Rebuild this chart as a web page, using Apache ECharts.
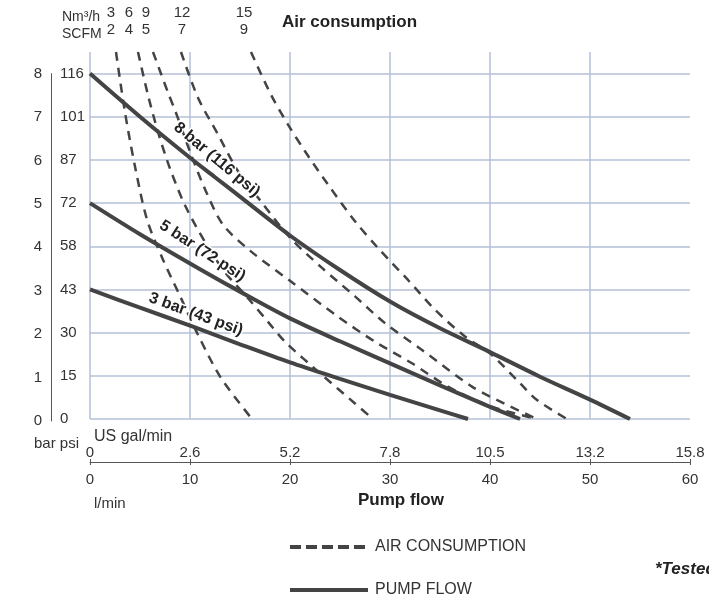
<!DOCTYPE html>
<html>
<head>
<meta charset="utf-8">
<title>Pump performance</title>
<script src="https://cdn.jsdelivr.net/npm/echarts@6/dist/echarts.min.js"></script>
<style>
  html, body { margin: 0; padding: 0; background: #fff; }
  #chart { width: 709px; height: 599px; }
</style>
</head>
<body>
<div id="chart"></div>
<script>
// axis labels
const galLabels = ['0', '2.6', '5.2', '7.8', '10.5', '13.2', '15.8']
const barLabels = ['0', '1', '2', '3', '4', '5', '6', '7', '8']
const psiLabels = ['0', '15', '30', '43', '58', '72', '87', '101', '116']

// pump flow curves: flow in l/min, pressure in bar
const flow8x = [0, 5, 10, 12.5, 15, 20, 25, 30, 35, 40, 45, 50, 54]
const flow8y = [8, 7.0, 6.05, 5.6, 5.15, 4.25, 3.45, 2.72, 2.1, 1.55, 0.98, 0.45, 0]
const flow5x = [0, 5, 11, 15, 20, 25, 30, 35, 40, 43]
const flow5y = [5, 4.28, 3.47, 2.95, 2.33, 1.8, 1.29, 0.78, 0.28, 0]
const flow3x = [0, 5, 10.5, 15, 20, 25, 30, 35, 37.8]
const flow3y = [3, 2.58, 2.12, 1.73, 1.31, 0.93, 0.56, 0.2, 0]
const flowNames = ['8 bar (116 psi)', '5 bar (72 psi)', '3 bar (43 psi)']

// air consumption curves
const air3x = [2.6, 3.5, 4.5, 5.7, 7.3, 9, 10.8, 13.1, 16.2]
const air3y = [8.5, 7.1, 5.85, 4.62, 3.69, 2.85, 1.95, 0.95, 0]
const air6x = [4.8, 5.8, 6.8, 8, 9.5, 11.5, 13.5, 15.8, 17.8, 19.5, 23.2, 26.5, 28.3]
const air6y = [8.5, 7.5, 6.65, 5.8, 4.95, 4.1, 3.4, 2.8, 2.25, 1.79, 1.02, 0.36, 0]
const air9x = [6.3, 7, 7.8, 8.6, 10.1, 11.6, 13.3, 16, 20, 24.8, 28.5, 32.2, 35.8, 40, 44.7]
const air9y = [8.5, 8.06, 7.56, 7.09, 6.13, 5.27, 4.5, 3.9, 3.2, 2.37, 1.79, 1.29, 0.75, 0.3, 0]
const air12x = [9.1, 10.8, 12.8, 14.8, 17.1, 20, 23.2, 26.5, 29.5, 33.2, 38.2, 41.5, 44.7]
const air12y = [8.5, 7.44, 6.59, 5.74, 5.04, 4.2, 3.5, 2.84, 2.22, 1.6, 0.75, 0.35, 0]
const air15x = [16.1, 18.1, 19.8, 21.5, 23.8, 26.5, 28.8, 31.8, 34.5, 37.5, 40, 43, 44.7, 47.7]
const air15y = [8.5, 7.51, 6.82, 6.2, 5.43, 4.58, 3.96, 3.22, 2.53, 1.91, 1.52, 0.83, 0.44, 0]
const airNm3 = ['3', '6', '9', '12', '15']
const airScfm = ['2', '4', '5', '7', '9']

const SANS = '"Liberation Sans", Arial, sans-serif'
const INK = '#333'
const LINE = '#444'
const GRID = '#b5c1d7'
// horizontal nudge of the Nm3/SCFM labels above each dashed curve
const airLabelShift = [-5, -9, -7, 1, -7]

function pairs(xs, ys) {
  return xs.map((x, i) => [x, ys[i]])
}

const chart = echarts.init(document.getElementById('chart'))

const airSets = [[air3x, air3y], [air6x, air6y], [air9x, air9y], [air12x, air12y], [air15x, air15y]]
const series = []

airSets.forEach(function(s, k) {
  const data = pairs(s[0], s[1])
  data[0] = {
    value: data[0],
    symbol: 'circle',
    symbolSize: 0,
    label: {
      show: true,
      position: 'top',
      distance: 14,
      offset: [airLabelShift[k], 0],
      formatter: airNm3[k] + '\n' + airScfm[k],
      fontFamily: SANS,
      fontSize: 15,
      lineHeight: 17,
      color: INK
    }
  }
  series.push({
    name: 'AIR CONSUMPTION',
    type: 'line',
    data: data,
    smooth: 0.3,
    symbol: 'none',
    silent: true,
    z: 2,
    itemStyle: { color: LINE },
    lineStyle: { color: LINE, width: 2.5, type: [9, 7] }
  })
})

// label placement along each pump flow line: point index, rotation, distance, offset
const flowSets = [
  [flow8x, flow8y, 3, -40, 6, [-6, -2]],
  [flow5x, flow5y, 2, -33, 9, [-3, -1]],
  [flow3x, flow3y, 2, -20, 5, [-2, 0]]
]
flowSets.forEach(function(s, k) {
  const data = pairs(s[0], s[1])
  data[s[2]] = {
    value: data[s[2]],
    symbol: 'circle',
    symbolSize: 0,
    label: {
      show: true,
      position: 'top',
      distance: s[4],
      offset: s[5],
      rotate: s[3],
      formatter: flowNames[k],
      fontFamily: SANS,
      fontWeight: 'bold',
      fontSize: 16,
      color: '#222',
      textBorderColor: '#fff',
      textBorderWidth: 3
    }
  }
  series.push({
    name: 'PUMP FLOW',
    type: 'line',
    data: data,
    smooth: 0.3,
    symbol: 'none',
    silent: true,
    z: 3,
    itemStyle: { color: LINE },
    lineStyle: { color: LINE, width: 4 }
  })
})

const option = {
  animation: false,
  title: [
    { text: 'Air consumption', left: 277, top: 9, textStyle: { fontFamily: SANS, fontWeight: 'bold', fontSize: 17, color: '#222' } },
    { text: 'Nm³/h\nSCFM', left: 57, top: 4, textStyle: { fontFamily: SANS, fontWeight: 'normal', fontSize: 14, lineHeight: 17, color: INK } },
    { text: 'bar psi', left: 29, top: 431, textStyle: { fontFamily: SANS, fontWeight: 'normal', fontSize: 15, color: INK } },
    { text: 'US gal/min', left: 89, top: 424, textStyle: { fontFamily: SANS, fontWeight: 'normal', fontSize: 16, color: INK } },
    { text: 'l/min', left: 89, top: 491, textStyle: { fontFamily: SANS, fontWeight: 'normal', fontSize: 15, color: INK } },
    { text: '*Tested', left: 650, top: 556, textStyle: { fontFamily: SANS, fontWeight: 'bold', fontStyle: 'italic', fontSize: 17, color: '#222' } }
  ],
  legend: {
    orient: 'vertical',
    left: 288,
    top: 539,
    padding: 0,
    itemWidth: 78,
    itemHeight: 14,
    itemGap: 27,
    selectedMode: false,
    itemStyle: { opacity: 0 },
    textStyle: { fontFamily: SANS, fontSize: 16, color: INK, padding: [0, 0, 0, 2] },
    data: [
      { name: 'AIR CONSUMPTION', lineStyle: { type: [11, 5], width: 4, color: LINE } },
      { name: 'PUMP FLOW', lineStyle: { width: 4, color: LINE } }
    ]
  },
  // grid 0 holds the curves; grid 1 only carries the bar scale, which stops at 8
  grid: [{
    left: 90,
    right: 19,
    top: 52,
    bottom: 180,
    outerBoundsMode: 'none'
  }, {
    left: 90,
    right: 19,
    top: 73.6,
    bottom: 178,
    outerBoundsMode: 'none'
  }],
  xAxis: [{
    type: 'value',
    min: 0,
    max: 60,
    interval: 10,
    position: 'bottom',
    offset: 43,
    name: 'Pump flow',
    nameLocation: 'middle',
    nameGap: 30,
    nameTextStyle: { fontFamily: SANS, fontWeight: 'bold', fontSize: 17, color: '#222', padding: [0, 0, 0, 22] },
    axisLine: { show: true, onZero: false, lineStyle: { color: '#555', width: 1 } },
    axisTick: { show: true, length: 3, lineStyle: { color: '#555' } },
    axisLabel: { margin: 10, fontFamily: SANS, fontSize: 15, color: INK },
    splitLine: { show: true, showMaxLine: false, lineStyle: { color: GRID, width: 1.5 } }
  }, {
    type: 'value',
    min: 0,
    max: 60,
    interval: 10,
    position: 'bottom',
    offset: 43,
    axisLine: { show: false, onZero: false },
    axisTick: { show: true, inside: true, length: 3, lineStyle: { color: '#555' } },
    axisLabel: {
      inside: true,
      margin: 2,
      fontFamily: SANS,
      fontSize: 15,
      color: INK,
      formatter: function(v) { return galLabels[v / 10] }
    },
    splitLine: { show: false }
  }, {
    type: 'value',
    gridIndex: 1,
    min: 0,
    max: 60,
    show: false
  }],
  yAxis: [{
    type: 'value',
    min: 0,
    max: 8.5,
    interval: 1,
    position: 'left',
    axisLine: { show: false, onZero: false },
    axisTick: { show: false },
    axisLabel: {
      align: 'left',
      margin: 30,
      showMaxLabel: false,
      fontFamily: SANS,
      fontSize: 15,
      color: INK,
      formatter: function(v) { return psiLabels[v] || '' }
    },
    splitLine: { show: true, showMaxLine: false, lineStyle: { color: GRID, width: 1.5 } }
  }, {
    type: 'value',
    gridIndex: 1,
    min: 0,
    max: 8,
    interval: 1,
    position: 'left',
    offset: 39,
    name: 'Fluid pressure',
    nameLocation: 'middle',
    nameGap: 28,
    nameRotate: 90,
    nameTextStyle: { fontFamily: SANS, fontWeight: 'bold', fontSize: 17, color: '#222', padding: [0, 0, 22, 0] },
    axisLine: { show: true, onZero: false, lineStyle: { color: '#555', width: 1 } },
    axisTick: { show: false },
    axisLabel: {
      margin: 9,
      fontFamily: SANS,
      fontSize: 15,
      color: INK,
      formatter: function(v) { return barLabels[v] || '' }
    },
    splitLine: { show: false }
  }],
  series: series
}

chart.setOption(option)
window.addEventListener('resize', function() {
  chart.resize()
})
</script>
</body>
</html>
